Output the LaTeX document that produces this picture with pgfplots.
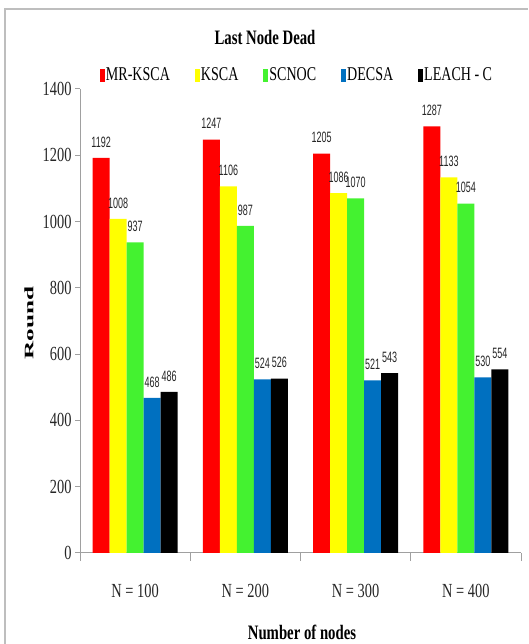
\documentclass[border=0pt]{standalone}
\usepackage{pgfplots}
\pgfplotsset{compat=1.18}
\usepackage{fontspec}
\setmainfont{Liberation Serif}[FakeStretch=0.72]
\newfontfamily\valfont{Liberation Sans}[FakeStretch=0.6]
\newfontfamily\plainserif{Liberation Serif}
\definecolor{cRed}{RGB}{255,0,0}
\definecolor{cYel}{RGB}{255,255,0}
\definecolor{cGrn}{RGB}{68,242,48}
\definecolor{cBlu}{RGB}{0,112,192}
\definecolor{cBlk}{RGB}{0,0,0}
\definecolor{axgray}{RGB}{160,160,160}
\definecolor{frgray}{RGB}{190,190,190}
\pgfplotstableread{
x mr ksca scnoc decsa leach
1 1192 1008 937 468 486
2 1247 1106 987 524 526
3 1205 1086 1070 521 543
4 1287 1133 1054 530 554
}\datatable
\begin{document}
\begin{tikzpicture}
\path[use as bounding box] (0pt,0pt) rectangle (528pt,644pt);
\draw[frgray, line width=1.2pt] (5pt,0pt) -- (5pt,635pt) -- (528pt,635pt);
\node[font=\fontsize{20.5}{22}\selectfont\bfseries] at (265pt,607pt) {Last Node Dead};
\node[font=\fontsize{18}{20}\selectfont\bfseries\plainserif, rotate=90] at (29pt,321pt) {\scalebox{1.4}[0.72]{Round}};
\node[font=\fontsize{20.5}{22}\selectfont\bfseries] at (302pt,12pt) {Number of nodes};
\begin{axis}[
  at={(80pt,91pt)}, anchor=origin,
  width=441pt, height=464pt, scale only axis,
  xmin=0.5, xmax=4.5, ymin=0, ymax=1400,
  ytick={0,200,...,1400},
  xtick={1,2,3,4},
  xticklabels={{N = 100},{N = 200},{N = 300},{N = 400}},
  minor xtick={0.5,1.5,2.5,3.5,4.5},
  major x tick style={draw=none},
  minor tick length=8pt,
  major tick length=5pt,
  tick align=outside,
  tick style={axgray, line width=1pt},
  axis x line*=bottom, axis y line*=left,
  axis line style={axgray, line width=1pt},
  /pgf/number format/assume math mode=true,
  /pgf/number format/1000 sep={},
  yticklabel style={font=\fontsize{20}{22}\selectfont, text=black!85},
  xticklabel style={font=\fontsize{20}{22}\selectfont, text=black!85, yshift=-23pt},
  ybar=0pt, bar width=17pt,
  nodes near coords,
  every node near coord/.append style={font=\valfont\fontsize{15}{15}\selectfont, anchor=center, yshift=16pt, text=black!85},
  legend columns=5,
  legend style={at={(0.491,1.03)}, anchor=center, draw=none, fill=none,
    font=\fontsize{19.5}{21}\selectfont,
    /tikz/every even column/.append style={column sep=24pt},
    nodes={inner sep=1pt}},
  legend image code/.code={\fill[#1] (0pt,-6.5pt) rectangle (5pt,6.5pt);},
]
\addplot[fill=cRed, draw=none] table[x=x,y=mr] {\datatable};
\addplot[fill=cYel, draw=none] table[x=x,y=ksca] {\datatable};
\addplot[fill=cGrn, draw=none] table[x=x,y=scnoc] {\datatable};
\addplot[fill=cBlu, draw=none] table[x=x,y=decsa] {\datatable};
\addplot[fill=cBlk, draw=none] table[x=x,y=leach] {\datatable};
\legend{MR-KSCA, KSCA, SCNOC, DECSA, LEACH - C}
\end{axis}
\end{tikzpicture}
\end{document}
